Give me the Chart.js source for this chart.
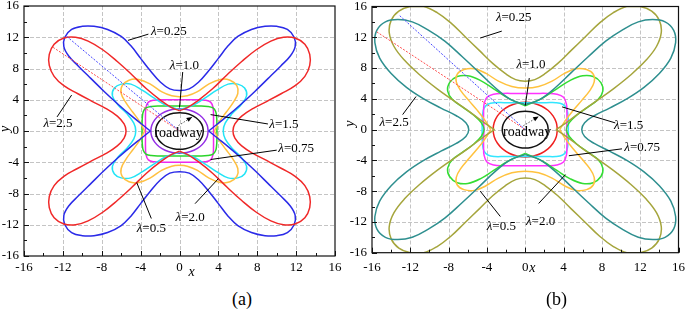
<!DOCTYPE html>
<html>
<head>
<meta charset="utf-8">
<script src="https://cdn.jsdelivr.net/npm/chart.js@4.4.1/dist/chart.umd.min.js"></script>
<style>
  body { margin: 0; background: #fff; width: 685px; height: 312px; position: relative; overflow: hidden; }
  canvas { position: absolute; top: 0; }
  #chartA { left: 0; }
  #chartB { left: 342px; }
  .cap { position: absolute; top: 289px; font: 18px "Liberation Serif", serif; color: #000; }
</style>
</head>
<body>
<canvas id="chartA" width="346" height="280"></canvas>
<canvas id="chartB" width="343" height="280"></canvas>
<div class="cap" style="left:232px">(a)</div>
<div class="cap" style="left:546px">(b)</div>
<script>
// axis ticks
const ticksMajor = [-16, -12, -8, -4, 0, 4, 8, 12, 16];
const ticksMinor = [-14, -10, -6, -2, 2, 6, 10, 14];

// panel (a): first-quadrant outline of each plastic zone (x, y)
const aL025 = [[3.0,0],[3.9,0.9],[5.0,2.0],[6.3,3.4],[7.7,5.0],[9.1,6.7],[10.4,8.3],[11.4,9.6],[11.9,10.8],[11.8,12.0],[11.1,13.0],[10.0,13.4],[8.8,13.4],[7.4,13.0],[6.0,12.1],[5.0,10.9],[4.0,9.3],[3.0,7.7],[2.0,6.3],[1.0,5.4],[0,5.2]];
const aL25 = [[5.5,0],[5.7,0.9],[6.4,1.9],[7.6,2.9],[9.0,3.8],[10.5,4.8],[11.9,5.8],[12.9,7.0],[13.4,8.4],[13.4,9.8],[12.9,11.1],[11.9,11.9],[10.7,12.0],[9.4,11.5],[7.9,10.4],[6.4,8.9],[4.9,7.2],[3.4,5.4],[1.9,3.9],[0.8,3.0],[0,2.6]];
const aL05 = [[3.6,0],[4.1,1.2],[4.8,2.4],[5.5,3.6],[6.0,4.8],[5.9,5.8],[5.2,6.5],[4.2,6.6],[3.0,6.0],[1.8,5.0],[0.8,4.5],[0,4.4]];
const aL20 = [[4.5,0],[4.7,1.0],[5.4,2.2],[6.3,3.3],[6.9,4.5],[6.7,5.5],[6.0,6.0],[5.0,6.0],[3.8,5.2],[2.6,4.2],[1.4,3.3],[0,2.7]];
const aL075 = [[3.5,0],[3.5,1.0],[3.5,2.0],[3.45,3.0],[3.2,3.7],[2.6,3.95],[1.8,4.0],[0.9,4.0],[0,4.0]];
const aL15 = [[3.85,0],[3.85,0.9],[3.82,1.8],[3.72,2.5],[3.45,2.95],[2.9,3.15],[2.0,3.2],[1.0,3.2],[0,3.2]];
const aL10 = [[2.95,0],[2.85,0.74],[2.55,1.43],[2.09,2.02],[1.48,2.47],[0.76,2.75],[0,2.85]];
const aRoad = [[2.45,0],[2.37,0.61],[2.12,1.18],[1.73,1.66],[1.23,2.04],[0.63,2.27],[0,2.35]];
const aBlueRay = [[-11.6,12.1],[0,0]];
const aRedRay = [[-13.0,10.7],[0,0]];

// panel (b)
const bL025 = [[3.2,0],[4.3,0.9],[5.8,2.3],[7.4,3.7],[9.2,5.3],[11.0,7.1],[12.6,9.0],[13.7,10.8],[14.2,12.6],[14.0,14.2],[13.2,15.4],[12.0,16.0],[10.6,16.0],[9.2,15.2],[7.8,13.9],[6.3,12.1],[4.8,10.3],[3.4,8.6],[2.1,7.3],[1.0,6.5],[0,6.3]];
const bL25 = [[5.9,0],[6.2,0.9],[7.2,1.8],[8.8,2.8],[10.6,4.0],[12.4,5.5],[14.0,7.3],[15.2,9.3],[15.7,11.3],[15.5,12.9],[14.6,14.0],[13.3,14.3],[11.8,14.0],[10.2,13.0],[8.4,11.5],[6.6,9.5],[4.8,7.4],[3.1,5.4],[1.5,3.9],[0,3.25]];
const bL05 = [[3.6,0],[4.2,1.2],[5.0,2.5],[5.9,3.8],[6.7,5.0],[7.2,6.2],[7.1,7.2],[6.4,7.8],[5.3,7.9],[4.1,7.3],[2.8,6.3],[1.4,5.6],[0,5.4]];
const bL20 = [[4.3,0],[4.6,0.9],[5.4,1.9],[6.5,2.9],[7.6,3.9],[8.1,5.0],[7.9,6.1],[7.1,6.9],[6.0,7.0],[4.7,6.4],[3.3,5.3],[1.8,4.1],[0,3.1]];
const bL075 = [[4.3,0],[4.35,1.0],[4.35,2.2],[4.3,3.3],[4.0,4.2],[3.3,4.6],[2.3,4.7],[1.1,4.7],[0,4.7]];
const bL15 = [[4.5,0],[4.5,1.0],[4.45,2.0],[4.3,2.8],[3.9,3.3],[3.2,3.5],[2.2,3.5],[1.1,3.5],[0,3.5]];
const bL10 = [[3.35,0],[3.24,0.92],[2.9,1.78],[2.37,2.51],[1.68,3.07],[0.87,3.43],[0,3.55]];
const bRoad = [[2.4,0],[2.32,0.62],[2.08,1.2],[1.7,1.7],[1.2,2.08],[0.62,2.32],[0,2.4]];
const bBlueRay = [[-13.1,14.8],[0,0]];
const bRedRay = [[-15.5,12.7],[0,0]];

// label text, where it sits and its leader line (data units)
const aNotes = [
  { t: '=0.25', at: [-1.1, 12.7], line: [[-3.2, 12.4], [-5.3, 11.6]] },
  { t: '=1.0', at: [0.5, 8.4], line: [[0.33, 7.55], [0, 3.0]] },
  { t: '=2.5', at: [-12.5, 0.9], line: [[-12.6, 1.8], [-11.1, 4.6]] },
  { t: '=1.5', at: [10.75, 0.8], line: [[9.1, 0.9], [3.2, 2.1]] },
  { t: '=0.75', at: [12.0, -2.3], line: [[10.0, -2.45], [3.2, -3.65]] },
  { t: '=2.0', at: [1.1, -11.1], line: [[1.6, -9.3], [4.0, -6.1]] },
  { t: '=0.5', at: [-2.9, -12.5], line: [[-2.9, -11.2], [-4.4, -6.6]] },
];
const bNotes = [
  { t: '=0.25', at: [-1.2, 14.5], line: [[-2.45, 12.8], [-4.7, 11.9]] },
  { t: '=1.0', at: [0.6, 8.4], line: [[0.42, 6.7], [0, 3.1]] },
  { t: '=2.5', at: [-13.7, 0.9], line: [[-12.8, 1.95], [-11.4, 4.3]] },
  { t: '=1.5', at: [10.8, 0.5], line: [[9.4, 0.87], [3.85, 2.95]] },
  { t: '=0.75', at: [12.2, -2.3], line: [[10.1, -2.5], [4.55, -3.4]] },
  { t: '=2.0', at: [1.6, -11.9], line: [[1.4, -9.6], [4.2, -5.85]] },
  { t: '=0.5', at: [-2.5, -12.6], line: [[-2.6, -11.3], [-4.7, -8.0]] },
];

const SERIF = '"Liberation Serif", serif';
Chart.defaults.font.family = SERIF;
Chart.defaults.color = '#000';

// mirror one quadrant into the full outline (the zones are symmetric about both axes)
function pieces(q, kind) {
  const q2 = q.slice().reverse().map(([x, y]) => [-x, y]);
  const q3 = q.map(([x, y]) => [-x, -y]);
  const q4 = q.slice().reverse().map(([x, y]) => [x, -y]);
  if (kind === 'vx') return [q.concat(q2.slice(1)), q3.concat(q4.slice(1))];
  if (kind === 'vy') return [q4.concat(q.slice(1)), q2.concat(q3.slice(1))];
  return [q.concat(q2.slice(1), q3.slice(1), q4.slice(1))];
}

function curveSets(curves) {
  const out = [];
  curves.forEach(c => {
    pieces(c.q, c.kind).forEach(p => {
      out.push({
        data: p.map(([x, y]) => ({ x, y })),
        borderColor: c.color, borderWidth: 1.5,
        showLine: true, pointRadius: 0, tension: 0.4, fill: false,
      });
    });
  });
  return out;
}

function raySet(pts, color) {
  return {
    data: pts.map(([x, y]) => ({ x, y })),
    borderColor: color, borderWidth: 1, borderDash: [2, 1.5],
    showLine: true, pointRadius: 0, tension: 0, fill: false,
  };
}

function lambdaText(ctx, txt, cx, cy) {
  ctx.font = 'italic 13px ' + SERIF;
  const w1 = ctx.measureText('λ').width;
  ctx.font = '13px ' + SERIF;
  const w2 = ctx.measureText(txt).width;
  const x0 = cx - (w1 + w2) / 2;
  ctx.textAlign = 'left';
  ctx.textBaseline = 'middle';
  ctx.font = 'italic 13px ' + SERIF;
  ctx.fillText('λ', x0, cy);
  ctx.font = '13px ' + SERIF;
  ctx.fillText(txt, x0 + w1, cy);
}

const decor = {
  id: 'decor',
  beforeDatasetsDraw(chart) {
    const { ctx, chartArea: a, scales: { x, y } } = chart;
    ctx.save();
    ctx.strokeStyle = '#c4c4c4';
    ctx.lineWidth = 1;
    ctx.setLineDash([4, 2]);
    ticksMajor.slice(1, -1).forEach(v => {
      const px = Math.round(x.getPixelForValue(v)) + 0.5;
      ctx.beginPath(); ctx.moveTo(px, a.top); ctx.lineTo(px, a.bottom); ctx.stroke();
      const py = Math.round(y.getPixelForValue(v)) + 0.5;
      ctx.beginPath(); ctx.moveTo(a.left, py); ctx.lineTo(a.right, py); ctx.stroke();
    });
    ctx.restore();
  },
  afterDatasetsDraw(chart, args, o) {
    const { ctx, chartArea: a, scales: { x, y } } = chart;
    const P = ([u, v]) => [x.getPixelForValue(u), y.getPixelForValue(v)];
    ctx.save();
    // frame and inward ticks
    ctx.strokeStyle = '#111';
    ctx.lineWidth = 1.2;
    ctx.strokeRect(a.left, a.top, a.right - a.left, a.bottom - a.top);
    ctx.lineWidth = 1;
    ticksMajor.concat(ticksMinor).forEach(v => {
      const len = ticksMajor.includes(v) ? 5 : 3;
      const px = Math.round(x.getPixelForValue(v)) + 0.5;
      ctx.beginPath(); ctx.moveTo(px, a.bottom); ctx.lineTo(px, a.bottom - len); ctx.stroke();
      const py = Math.round(y.getPixelForValue(v)) + 0.5;
      ctx.beginPath(); ctx.moveTo(a.left, py); ctx.lineTo(a.left + len, py); ctx.stroke();
    });
    // leader lines and labels
    ctx.fillStyle = '#000';
    ctx.strokeStyle = '#000';
    ctx.lineWidth = 1;
    o.notes.forEach(n => {
      const [p1, p2] = n.line.map(P);
      ctx.beginPath(); ctx.moveTo(p1[0], p1[1]); ctx.lineTo(p2[0], p2[1]); ctx.stroke();
      const [cx, cy] = P(n.at);
      lambdaText(ctx, n.t, cx, cy);
    });
    // radius arrow
    const [t0, t1] = o.arrow.map(P);
    ctx.strokeStyle = '#555';
    ctx.setLineDash([1.5, 1.5]);
    ctx.beginPath(); ctx.moveTo(t0[0], t0[1]); ctx.lineTo(t1[0], t1[1]); ctx.stroke();
    ctx.setLineDash([]);
    const ang = Math.atan2(t1[1] - t0[1], t1[0] - t0[0]);
    ctx.beginPath();
    ctx.moveTo(t1[0], t1[1]);
    ctx.lineTo(t1[0] - 6 * Math.cos(ang - 0.4), t1[1] - 6 * Math.sin(ang - 0.4));
    ctx.lineTo(t1[0] - 6 * Math.cos(ang + 0.4), t1[1] - 6 * Math.sin(ang + 0.4));
    ctx.closePath(); ctx.fill();
    // roadway text
    const [rx, ry] = P(o.road);
    ctx.font = '14px ' + SERIF;
    ctx.textAlign = 'center';
    ctx.textBaseline = 'middle';
    ctx.fillText('roadway', rx, ry);
    // axis letters
    ctx.font = 'italic 14px ' + SERIF;
    ctx.fillText('x', x.getPixelForValue(0) + o.xOff, a.bottom + 16);
    ctx.save();
    ctx.translate(o.yLeft, y.getPixelForValue(0) + o.yOff);
    ctx.rotate(-Math.PI / 2);
    ctx.fillText('y', 0, 0);
    ctx.restore();
    ctx.restore();
  },
};

function makePanel(id, curves, rays, notes, extra, lay) {
  new Chart(document.getElementById(id), {
    type: 'scatter',
    data: { datasets: rays.concat(curveSets(curves)) },
    options: {
      responsive: false, animation: false, devicePixelRatio: 1,
      layout: { padding: { left: 0, right: lay.right, top: lay.top, bottom: 0 } },
      plugins: { legend: { display: false }, tooltip: { enabled: false }, decor: Object.assign({ notes }, extra) },
      scales: {
        x: {
          type: 'linear', min: -16, max: 16,
          grid: { display: false, drawTicks: false }, border: { display: false },
          ticks: { stepSize: 4, autoSkip: false, maxRotation: 0, padding: lay.xPad, font: { size: 13 } },
          afterFit: s => { s.height = lay.xH; s.paddingLeft = 0; s.paddingRight = 0; },
        },
        y: {
          type: 'linear', min: -16, max: 16,
          grid: { display: false, drawTicks: false }, border: { display: false },
          ticks: { stepSize: 4, autoSkip: false, padding: 5, font: { size: 13 } },
          afterFit: s => { s.width = lay.yW; s.paddingTop = 0; s.paddingBottom = 0; },
        },
      },
    },
    plugins: [decor],
  });
}

function drawAll() {
  makePanel('chartA', [
    { q: aL25, kind: 'vy', color: '#f02828' },
    { q: aL025, kind: 'vx', color: '#2a2ae8' },
    { q: aL05, kind: 'vx', color: '#ffc040' },
    { q: aL20, kind: 'vy', color: '#22e4f6' },
    { q: aL15, kind: 'loop', color: '#2ad42a' },
    { q: aL075, kind: 'loop', color: '#ee2aee' },
    { q: aL10, kind: 'loop', color: '#9530e6' },
    { q: aRoad, kind: 'loop', color: '#111' },
  ], [raySet(aBlueRay, '#4646ff'), raySet(aRedRay, '#ff4d4d')], aNotes,
    { arrow: [[-0.1, 0.7], [1.3, 1.8]], road: [-0.1, -0.3], xOff: 12, yLeft: 5, yOff: -2 },
    { right: 11, top: 6, xH: 24, yW: 24, xPad: 4 });

  makePanel('chartB', [
    { q: bL25, kind: 'vy', color: '#2e8f8f' },
    { q: bL025, kind: 'vx', color: '#a5a53c' },
    { q: bL05, kind: 'vx', color: '#ffc23e' },
    { q: bL20, kind: 'vy', color: '#33dd33' },
    { q: bL075, kind: 'loop', color: '#ff33ff' },
    { q: bL15, kind: 'loop', color: '#33e6ff' },
    { q: bL10, kind: 'loop', color: '#f02020' },
    { q: bRoad, kind: 'loop', color: '#111' },
  ], [raySet(bBlueRay, '#4646ff'), raySet(bRedRay, '#ff4d4d')], bNotes,
    { arrow: [[-0.2, 0.5], [1.4, 1.7]], road: [0.2, -0.4], xOff: 7, yLeft: 8, yOff: -6 },
    { right: 6.5, top: 6.5, xH: 27.3, yW: 30, xPad: 7 });
}

Promise.all([
  document.fonts.load('13px "Liberation Serif"'),
  document.fonts.load('italic 13px "Liberation Serif"'),
]).then(drawAll, drawAll);
</script>
</body>
</html>
